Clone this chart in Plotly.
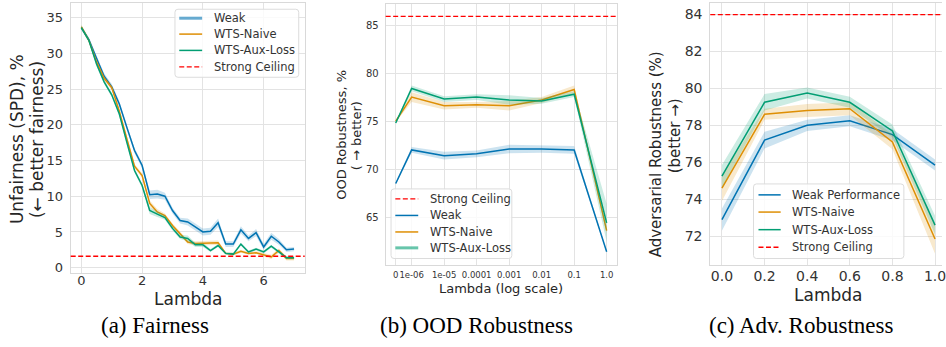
import plotly.graph_objects as go

# ---------------- data ----------------
# (a) Fairness
lam_a = [0.0, 0.25, 0.5, 0.75, 1.0, 1.25, 1.5, 1.75, 2.0, 2.25, 2.5, 2.75, 3.0, 3.25, 3.5,
         3.75, 4.0, 4.25, 4.5, 4.75, 5.0, 5.25, 5.5, 5.75, 6.0, 6.25, 6.5, 6.75, 7.0]
weak_a = [33.6, 31.9, 29.3, 26.8, 25.3, 22.9, 19.6, 16.4, 14.3, 10.2, 10.3, 10.0, 8.0, 6.6, 6.4,
          5.7, 5.0, 5.1, 6.3, 3.3, 3.3, 5.3, 4.1, 4.9, 2.9, 4.4, 3.6, 2.5, 2.6]
naive_a = [33.7, 31.8, 28.8, 26.5, 25.2, 21.9, 18.0, 14.2, 12.9, 9.0, 7.8, 7.3, 5.9, 4.8, 3.6,
           3.4, 3.4, 3.4, 3.5, 2.0, 1.9, 2.3, 2.0, 2.1, 1.8, 1.5, 2.4, 1.3, 1.3]
aux_a = [33.6, 31.8, 28.5, 26.0, 24.2, 21.5, 17.5, 13.6, 11.5, 8.0, 7.5, 7.0, 5.5, 4.3, 4.1,
         3.2, 3.2, 2.4, 3.1, 2.0, 1.9, 3.3, 2.2, 2.6, 2.2, 3.0, 2.2, 1.4, 1.4]
weak_a_err = [0.3, 0.3, 0.4, 0.4, 0.4, 0.4, 0.4, 0.4, 0.4, 0.6, 0.6, 0.5, 0.4, 0.4, 0.5,
              0.5, 0.5, 0.5, 0.6, 0.4, 0.4, 0.5, 0.4, 0.5, 0.4, 0.5, 0.4, 0.3, 0.3]
naive_a_err = [0.3, 0.3, 0.3, 0.3, 0.3, 0.3, 0.3, 0.3, 0.3, 0.4, 0.4, 0.3, 0.3, 0.3, 0.3,
               0.3, 0.3, 0.3, 0.3, 0.2, 0.2, 0.2, 0.2, 0.2, 0.2, 0.3, 0.3, 0.3, 0.3]
aux_a_err = [0.3, 0.3, 0.3, 0.3, 0.3, 0.3, 0.3, 0.3, 0.3, 0.5, 0.4, 0.3, 0.3, 0.3, 0.4,
             0.3, 0.3, 0.2, 0.2, 0.2, 0.2, 0.2, 0.2, 0.2, 0.2, 0.2, 0.2, 0.2, 0.2]
ceiling_a = 1.6

# (b) OOD Robustness
lam_b = [0, 1e-06, 1e-05, 1e-04, 1e-03, 1e-02, 0.1, 1.0]
lam_b_labels = ["0", "1e-06", "1e-05", "0.0001", "0.001", "0.01", "0.1", "1.0"]
weak_b = [68.5, 72.0, 71.4, 71.6, 72.1, 72.1, 72.0, 61.4]
naive_b = [75.0, 77.5, 76.6, 76.7, 76.6, 77.2, 78.3, 63.6]
aux_b = [74.8, 78.4, 77.3, 77.5, 77.2, 77.1, 77.8, 64.4]
weak_b_err = [0.1, 0.3, 0.4, 0.35, 0.45, 0.4, 0.4, 0.1]
naive_b_err = [0.1, 0.5, 0.4, 0.3, 0.5, 0.3, 0.4, 0.3]
aux_b_err = [0.1, 0.3, 0.3, 0.3, 0.5, 0.3, 0.3, 2.0]
ceiling_b = 85.9

# (c) Adversarial Robustness
lam_c = [0.0, 0.2, 0.4, 0.6, 0.8, 1.0]
weak_c = [72.9, 77.2, 78.0, 78.25, 77.5, 75.85]
naive_c = [74.6, 78.6, 78.8, 78.9, 77.1, 71.85]
aux_c = [75.25, 79.25, 79.75, 79.25, 77.7, 72.6]
weak_c_err = [0.6, 0.45, 0.3, 0.3, 0.3, 0.3]
naive_c_err = [0.7, 0.3, 0.35, 0.35, 0.4, 0.8]
aux_c_err = [0.6, 0.45, 0.3, 0.3, 0.35, 0.5]
ceiling_c = 84.0

legend_a = ["Weak", "WTS-Naive", "WTS-Aux-Loss", "Strong Ceiling"]
legend_b = ["Strong Ceiling", "Weak", "WTS-Naive", "WTS-Aux-Loss"]
legend_c = ["Weak Performance", "WTS-Naive", "WTS-Aux-Loss", "Strong Ceiling"]
captions = ["(a) Fairness", "(b) OOD Robustness", "(c) Adv. Robustness"]

# ---------------- style ----------------
W, H = 946, 347
BLUE, ORANGE, GREEN, RED = "#0173b2", "#de8f05", "#029e73", "#ff0000"
FONT = "DejaVu Sans"
TXT = "#262626"
GRID = "#e3e3e3"
FRAME = "#d9d9d9"


def px(x):
    return x / W


def py(y):
    return 1 - y / H


def rgba(h, a):
    h = h.lstrip("#")
    return "rgba(%d,%d,%d,%s)" % (int(h[0:2], 16), int(h[2:4], 16), int(h[4:6], 16), a)


def pos_b(v):
    import math
    return math.log10(v) + 6 if v > 0 else -0.49


fig = go.Figure()


def add_series(x, y, err, color, xa, ya, name):
    up = [v + e for v, e in zip(y, err)]
    lo = [v - e for v, e in zip(y, err)]
    fig.add_trace(go.Scatter(x=list(x) + list(x)[::-1], y=up + lo[::-1], fill="toself",
                             fillcolor=rgba(color, 0.2), line=dict(width=0), mode="lines",
                             hoverinfo="skip", showlegend=False, xaxis=xa, yaxis=ya))
    fig.add_trace(go.Scatter(x=x, y=y, mode="lines", line=dict(color=color, width=1.5),
                             name=name, showlegend=False, xaxis=xa, yaxis=ya))


add_series(lam_a, weak_a, weak_a_err, BLUE, "x", "y", "Weak")
add_series(lam_a, naive_a, naive_a_err, ORANGE, "x", "y", "WTS-Naive")
add_series(lam_a, aux_a, aux_a_err, GREEN, "x", "y", "WTS-Aux-Loss")

xb = [pos_b(v) for v in lam_b]
add_series(xb, weak_b, weak_b_err, BLUE, "x2", "y2", "Weak")
add_series(xb, naive_b, naive_b_err, ORANGE, "x2", "y2", "WTS-Naive")
add_series(xb, aux_b, aux_b_err, GREEN, "x2", "y2", "WTS-Aux-Loss")

add_series(lam_c, weak_c, weak_c_err, BLUE, "x3", "y3", "Weak Performance")
add_series(lam_c, naive_c, naive_c_err, ORANGE, "x3", "y3", "WTS-Naive")
add_series(lam_c, aux_c, aux_c_err, GREEN, "x3", "y3", "WTS-Aux-Loss")

DASH = "5px,2.5px"
for xa, ya, c in [("x", "y", ceiling_a), ("x2", "y2", ceiling_b), ("x3", "y3", ceiling_c)]:
    fig.add_shape(type="line", xref=xa + " domain", yref=ya, x0=0, x1=1, y0=c, y1=c,
                  line=dict(color=RED, width=1.3, dash=DASH), layer="above")


def axis_common(size, standoff):
    return dict(showgrid=True, gridcolor=GRID, gridwidth=1, zeroline=False, showline=True,
                linecolor=FRAME, linewidth=1, ticks="", ticklabelstandoff=standoff, tickangle=0,
                tickfont=dict(family=FONT, size=size, color="#333333"))


xa_a = axis_common(13, -5)
xa_a.update(domain=[px(71), px(306)], range=[-0.35, 7.35], tickvals=[0, 2, 4, 6], anchor="y", mirror=True)
ya_a = axis_common(13, 4)
ya_a.update(domain=[py(275), py(3.3)], range=[-0.8, 37.0], tickvals=[0, 5, 10, 15, 20, 25, 30, 35],
            anchor="x", mirror=True)

xa_b = axis_common(8.5, 2)
xa_b.update(domain=[px(387.3), px(620)], range=[-0.80, 6.33], tickvals=xb, ticktext=lam_b_labels,
            anchor="y2", mirror=True)
ya_b = axis_common(10, 4)
ya_b.update(domain=[py(266.7), py(4)], range=[60.0, 87.2], tickvals=[65, 70, 75, 80, 85],
            anchor="x2", mirror=True)

xa_c = axis_common(14, -2)
xa_c.update(domain=[px(713.3), 1.0], range=[-0.0547, 1.0327], tickvals=lam_c,
            tickformat=".1f", anchor="y3", mirror=True, ticklabeloverflow="allow")
ya_c = axis_common(14, 4)
ya_c.update(domain=[py(266.7), py(3.3)], range=[70.43, 84.61], tickvals=[72, 74, 76, 78, 80, 82, 84],
            anchor="x3", mirror=False)

fig.update_layout(
    width=W, height=H, margin=dict(l=0, r=0, t=0, b=0),
    paper_bgcolor="white", plot_bgcolor="white", showlegend=False,
    xaxis=xa_a, yaxis=ya_a, xaxis2=xa_b, yaxis2=ya_b, xaxis3=xa_c, yaxis3=ya_c,
)


def ann(x, y, text, size, angle=0, color=TXT, family=FONT, anchor="center"):
    fig.add_annotation(x=px(x), y=py(y), xref="paper", yref="paper", text=text, showarrow=False,
                       textangle=angle, xanchor=anchor, yanchor="middle",
                       font=dict(family=family, size=size, color=color))


# axis titles
ann(188.5, 301, "Lambda", 17)
ann(503.6, 290, "Lambda (log scale)", 13)
ann(831.5, 297, "Lambda", 17)
ann(17, 140, "Unfairness (SPD), %", 17, -90)
ann(37, 140, "(← better fairness)", 17, -90)
ann(343, 136, "OOD Robustness, %", 13, -90)
ann(357.5, 136, "( → better)", 13, -90)
ann(659, 155, "Adversarial Robustness (%)", 15, -90)
ann(678, 137, "(better →)", 15, -90)

# captions
for cx, cap in zip([156, 479, 804], captions):
    ann(cx, 327, cap, 23, color="black", family="Liberation Serif")


# legends (drawn boxes)
def rounded(x0, y0, x1, y1, r=3):
    X0, X1 = px(x0), px(x1)
    Y0, Y1 = py(y0), py(y1)
    rx, ry = r / W, r / H
    return ("M %f,%f L %f,%f Q %f,%f %f,%f L %f,%f Q %f,%f %f,%f L %f,%f Q %f,%f %f,%f "
            "L %f,%f Q %f,%f %f,%f Z" % (
                X0 + rx, Y0, X1 - rx, Y0, X1, Y0, X1, Y0 - ry, X1, Y1 + ry, X1, Y1, X1 - rx, Y1,
                X0 + rx, Y1, X0, Y1, X0, Y1 + ry, X0, Y0 - ry, X0, Y0, X0 + rx, Y0))


def legend(box, sx0, sx1, tx, ys, labels, styles):
    fig.add_shape(type="path", path=rounded(*box), xref="paper", yref="paper",
                  fillcolor="rgba(255,255,255,0.8)", line=dict(color="#dcdcdc", width=1), layer="above")
    for y, lab, (col, w, dash) in zip(ys, labels, styles):
        fig.add_shape(type="line", xref="paper", yref="paper", x0=px(sx0), x1=px(sx1), y0=py(y), y1=py(y),
                      line=dict(color=col, width=w, dash=dash), layer="above")
        ann(tx, y, lab, 11.5, color="#333333", anchor="left")


legend((175.7, 9.3, 300, 77.7), 180, 203, 213, [18.3, 34.3, 50.7, 67.3], legend_a,
       [(rgba(BLUE, 0.6), 3, "solid"), (ORANGE, 1.5, "solid"), (GREEN, 1.5, "solid"), (RED, 1.3, DASH)])
legend((392.7, 190, 514, 260), 397, 420, 429.5, [200, 216.7, 233.3, 249.3], legend_b,
       [(RED, 1.3, DASH), (BLUE, 1.5, "solid"), (ORANGE, 1.5, "solid"), (rgba(GREEN, 0.6), 3, "solid")])
legend((756.7, 185, 907.7, 260), 761.7, 784, 793.3, [196, 213.3, 231, 248.7], legend_c,
       [(BLUE, 1.5, "solid"), (ORANGE, 1.5, "solid"), (GREEN, 1.5, "solid"), (RED, 1.3, DASH)])

fig.write_html("out.html")
